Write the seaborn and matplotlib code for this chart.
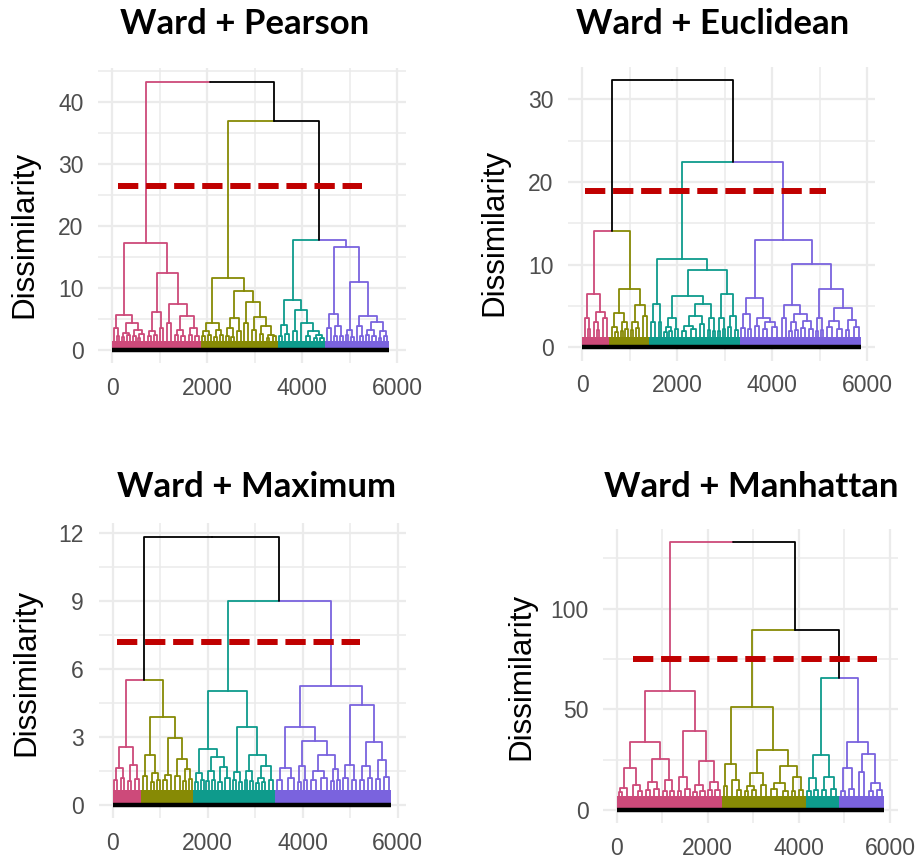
import numpy as np
import pandas as pd
import matplotlib
matplotlib.use("Agg")
import matplotlib.pyplot as plt
import seaborn as sns

# ---------------- data ----------------
# Tree nodes: (merge height, left, right); integer leaves = groups of
# observations (width in observations) forming the dense bottom band.
titles = ["Ward + Pearson", "Ward + Euclidean", "Ward + Maximum", "Ward + Manhattan"]
cluster_names = ["pink", "olive", "cyan", "purple"]
cluster_colors = ["#CD4A7A", "#878A05", "#0E9B8C", "#7A63DE"]

# Ward + Pearson
pearson_pink = (17.3,
                (5.6, (3.5, 70, (2.3, 50, 55)),
                 (4.3, (2.8, (2.1, 56, 56), (2.4, 60, 59)), (3.2, (2.2, 59, 60), (2.6, (2.0, 48, 50), 98)))),
                (12.4, (6.1, (3.0, (2.2, 63, 63), (2.5, 60, 59)), (3.6, 70, 70)),
                 (7.4, (4.3, 91, 98), (5.5, (3.3, (2.4, 63, 63), (2.2, 77, 77)), (3.5, (2.5, 70, 70), (2.3, 74, 73))))))
pearson_olive = (11.7,
                 (4.3, (3.0, (2.2, 60, 59), (2.5, 70, 70)), (3.2, (2.1, 59, 60), (2.4, 63, 63))),
                 (9.6, (5.1, (3.5, (2.3, 60, 59), (2.1, 56, 56)), (3.0, 70, 84)),
                  (7.8, (4.3, 70, 84), (5.4, (3.3, 70, 91), (3.8, (2.6, 77, 77), (2.5, (2.0, 63, 63), (2.2, 70, 70)))))))
pearson_cyan = (8.1, (4.0, (2.3, 63, 63), (2.6, 77, 77)),
                (6.4, (3.0, 91, 84), (4.3, 84, (3.0, (2.2, 98, 98), (2.4, (1.9, 66, 67), (2.0, 66, 67))))))
pearson_purple = (16.7, (5.8, (3.5, 84, 70), (3.8, (2.3, 60, 59), (2.2, 63, 63))),
                  (11.0, (3.2, (2.4, 60, 59), (2.1, 56, 56)),
                   (5.5, (3.8, 84, (2.2, 52, 53)),
                    (4.6, (3.3, (2.4, 70, 70), (2.2, 70, 70)), (3.0, (2.0, 52, 53), (2.3, 70, 70))))))
pearson_top = (43.3, "pink", (37.0, "olive", (17.7, "cyan", "purple")))

# Ward + Euclidean
euclid_pink = (6.4, (3.5, 91, (2.2, 52, 53)), (4.3, (3.0, 84, (2.1, 52, 53)), (3.5, 84, 98)))
euclid_olive = (7.1, (4.1, (2.5, 98, (1.9, 56, 56)), (3.0, (2.0, 52, 53), (2.2, 52, 53))),
                (5.1, (3.0, (2.1, 60, 59), (2.3, 60, 59)), (3.8, 91, 91)))
euclid_cyan = (10.7, (5.2, (3.0, 84, 84), (3.0, 56, 70)),
               (9.35, (6.2, (3.5, (2.5, (1.9, 52, 53), (2.0, 52, 53)), (2.2, 70, 70)),
                       (5.2, (3.8, (2.6, (2.0, 87, 88), (2.2, 105, 105)), (2.8, 84, 91)),
                        (3.5, (2.1, 52, 53), (2.0, 52, 53)))),
                (6.5, (3.5, (2.0, 52, 53), (2.2, 52, 53)), (3.8, (2.4, 70, 70), (2.1, 70, 70)))))
euclid_purple = (13.0, (5.9, (4.0, (2.3, 70, 70), (2.2, 70, 70)),
                        (3.5, (2.6, 84, 91), (3.0, (2.2, 87, 88), (2.4, 105, 105)))),
                 (10.1, (5.1, (3.6, 84, 91), (4.0, (3.0, (2.0, 59, 60), (2.1, 63, 63)), (3.2, (2.3, 77, 77), (2.2, 80, 81)))),
                  (7.1, (3.6, (2.0, 52, 53), (2.1, 52, 53)),
                   (4.7, (3.2, (2.4, 105, 105), (2.2, 105, 105)), (3.3, (2.1, 70, 70), (2.5, 105, 105))))))
euclid_top = (32.3, (14.1, "pink", "olive"), (22.4, "cyan", "purple"))

# Ward + Maximum
maximum_pink = (2.57, (1.65, (1.1, 66, 67), (1.2, 77, 77)), (1.75, (1.05, 70, 70), (1.15, 84, 84)))
maximum_olive = (3.9, (2.2, (1.3, 91, 91), (1.4, (1.0, 59, 60), (1.1, 70, 70))),
                 (2.94, (1.32, (1.1, 70, 70), 105),
                  (2.02, (1.3, 84, 91), (1.6, (1.05, 59, 60), (1.15, 63, 63)))))
maximum_cyan = (5.04, (2.47, (1.4, (1.0, 59, 60), (1.1, 63, 63)),
                       (2.13, (1.5, (1.05, 59, 60), (1.1, 63, 63)), (1.69, (1.0, 70, 70), (1.2, 87, 88)))),
                (3.46, (1.47, (1.1, 59, 60), (1.0, 63, 63)),
                 (2.21, (1.5, (1.1, 59, 60), (1.05, 63, 63)),
                  (1.7, (1.2, (0.95, 61, 61), (1.0, 61, 62)), (1.1, 87, 88)))))
maximum_purple = (5.26, (3.46, (1.62, (1.1, 105, 105), (1.2, 122, 123)),
                         (2.82, (1.72, (1.0, 59, 60), (1.1, 63, 63)),
                          (2.21, (1.5, (1.1, 105, 105), (1.2, 122, 123)), (1.6, (1.05, 59, 60), (1.1, 63, 63))))),
                  (4.41, (1.77, (1.2, 87, 88), (1.1, 87, 88)),
                   (2.8, (1.7, (1.1, 87, 88), (1.2, 87, 88)), (2.0, (1.15, 70, 70), (1.25, 105, 105)))))
maximum_top = (11.84, (5.51, "pink", "olive"), (9.01, "cyan", "purple"))

# Ward + Manhattan
manhattan_pink = (59.3, (33.6, (20.7, (10.7, (9.0, 80, 81), 132), (12.4, 132, (9.4, 80, 81))),
                         (25.2, (14.1, (9.8, 91, 92), (10.5, 110, 110)), (14.9, (9.2, 73, 73), (9.6, 84, 84)))),
                  (39.4, (16.5, (9.5, 73, 73), (10.2, 99, 99)),
                   (24.5, (12.4, (9.0, 73, 73), (9.5, 91, 92)), (14.1, (9.8, 73, 73), (10.0, 91, 92)))))
manhattan_olive = (51.3, (22.8, (12.0, 80, 88), (14.9, 124, (10.0, 91, 92))),
                   (29.8, (18.2, (12.0, (9.2, 73, 73), (9.8, 91, 92)), (12.5, 110, 110)),
                    (21.8, (13.2, (10.3, 128, 128), (9.6, 110, 110)), (16.5, (9.4, 73, 73), (10.1, 99, 99)))))
manhattan_cyan = (27.3, (15.7, (9.5, 73, 73), (10.0, 84, 84)), (16.2, (9.8, 91, 92), (10.4, 117, 117)))
manhattan_purple = (33.9, (20.7, (9.6, 84, 84), (10.2, 110, 110)),
                    (27.8, (19.0, 110, 110), (13.2, (9.5, 91, 92), (10.0, 99, 99))))
manhattan_top = (133.0, "pink", (89.4, "olive", (65.4, "cyan", "purple")))

# cut heights (red dashed lines) and their extents
cut_heights = [26.5, 18.9, 7.17, 74.8]
cut_start = [130, 60, 95, 366]
cut_end = [5260, 5140, 5200, 5707]

# bottom band height of the dense low-level merges
band_heights = [1.5, 1.3, 0.65, 7.0]

# y ticks
y_major = [[0, 10, 20, 30, 40], [0, 10, 20, 30], [0, 3, 6, 9, 12], [0, 50, 100]]
y_minor = [[5, 15, 25, 35, 45], [5, 15, 25], [1.5, 4.5, 7.5, 10.5], [25, 75, 125]]
x_major = [0, 2000, 4000, 6000]
x_minor = [1000, 3000, 5000]

panels = [
    (pearson_top, [pearson_pink, pearson_olive, pearson_cyan, pearson_purple]),
    (euclid_top, [euclid_pink, euclid_olive, euclid_cyan, euclid_purple]),
    (maximum_top, [maximum_pink, maximum_olive, maximum_cyan, maximum_purple]),
    (manhattan_top, [manhattan_pink, manhattan_olive, manhattan_cyan, manhattan_purple]),
]

# ---------------- layout (pixel geometry of the 918x863 canvas) ----------------
W, H = 918, 863
axes_px = [(98, 68, 405.8, 363.5), (568.3, 67, 875.4, 360.5),
           (98.5, 523.2, 405.6, 818.4), (603.3, 528.9, 897.5, 823.4)]
xlims = [(-295, 6185), (-295, 6170), (-295, 6170), (-294, 6165)]
ylims = [(-2.17, 45.5), (-1.6, 33.9), (-0.59, 12.43), (-6.66, 139.6)]
title_pos = [(245, 24), (713, 24), (257, 487), (751, 487)]
ylabel_pos = [(24, 234), (494, 232), (26, 672), (521, 676)]


def build(node, start, color, band, segs, bushes):
    if isinstance(node, int):
        bushes.append((start, node, band, color))
        return start + node / 2, band, start + node
    h, l, r = node
    cl, hl, e = build(l, start, color, band, segs, bushes)
    cr, hr, e = build(r, e, color, band, segs, bushes)
    c = (cl + cr) / 2
    segs.append(([cl, cl, c], [hl, h, h], color))
    segs.append(([c, cr, cr], [h, h, hr], color))
    return c, h, e


def build_top(node, start, clusters, band, segs, bushes):
    if isinstance(node, str):
        i = cluster_names.index(node)
        c, h, e = build(clusters[i], start, cluster_colors[i], band, segs, bushes)
        return c, h, e, cluster_colors[i]
    h, l, r = node
    cl, hl, e, coll = build_top(l, start, clusters, band, segs, bushes)
    cr, hr, e, colr = build_top(r, e, clusters, band, segs, bushes)
    c = (cl + cr) / 2
    segs.append(([cl, cl, c], [hl, h, h], coll))
    segs.append(([c, cr, cr], [h, h, hr], colr))
    return c, h, e, "#000000"


sns.set_theme(style="white")
plt.rcParams["font.family"] = ["Liberation Sans", "DejaVu Sans"]

fig = plt.figure(figsize=(W / 100, H / 100), dpi=100)

for k, (top, clusters) in enumerate(panels):
    x0, y0, x1, y1 = axes_px[k]
    ax = fig.add_axes([x0 / W, 1 - y1 / H, (x1 - x0) / W, (y1 - y0) / H])
    segs, bushes = [], []
    _, _, n_end, _ = build_top(top, 1, clusters, band_heights[k], segs, bushes)

    rows = []
    for j, (xs, ys, col) in enumerate(segs):
        for xx, yy in zip(xs, ys):
            rows.append({"seg": j, "x": xx, "y": yy, "color": col})
    df = pd.DataFrame(rows)
    pal = {c: c for c in df["color"].unique()}

    # dense low-level band
    bdf = pd.DataFrame(bushes, columns=["start", "width", "height", "color"])
    ax.bar(bdf["start"], bdf["height"], width=bdf["width"], align="edge",
           color=bdf["color"], linewidth=0, zorder=2)
    # stems / links
    sns.lineplot(data=df, x="x", y="y", units="seg", estimator=None, hue="color",
                 palette=pal, sort=False, legend=False, linewidth=1.3, ax=ax, zorder=3)
    # baseline
    ax.plot([1, n_end], [0, 0], color="black", linewidth=3.2, solid_capstyle="butt", zorder=4)
    # cut line
    ax.plot([cut_start[k], cut_end[k]], [cut_heights[k]] * 2, color="#C00000",
            linewidth=4.3, dashes=(3.4, 1.3), zorder=5)

    ax.set_xlim(*xlims[k])
    ax.set_ylim(*ylims[k])
    ax.set_xticks(x_major)
    ax.set_xticks(x_minor, minor=True)
    ax.set_yticks(y_major[k])
    ax.set_yticks(y_minor[k], minor=True)
    ax.grid(which="major", color="#EBEBEB", linewidth=1.6)
    ax.grid(which="minor", color="#EBEBEB", linewidth=1.1)
    ax.set_axisbelow(True)
    for s in ax.spines.values():
        s.set_visible(False)
    ax.tick_params(which="both", length=0)
    ax.tick_params(axis="y", labelsize=16.5, labelcolor="#4D4D4D", pad=10.5)
    ax.tick_params(axis="x", labelsize=16.5, labelcolor="#4D4D4D", pad=9.5)
    ax.set_xlabel("")
    ax.set_ylabel("")

    tx, ty = title_pos[k]
    fig.text(tx / W, 1 - ty / H, titles[k], ha="center", va="center", color="black",
             fontsize=25, fontweight="bold", family=["Lato", "DejaVu Sans"])
    lx, ly = ylabel_pos[k]
    fig.text(lx / W, 1 - ly / H, "Dissimilarity", ha="center", va="center",
             rotation=90, fontsize=22.5, color="black")

fig.savefig("out.png", dpi=100, facecolor="white")
